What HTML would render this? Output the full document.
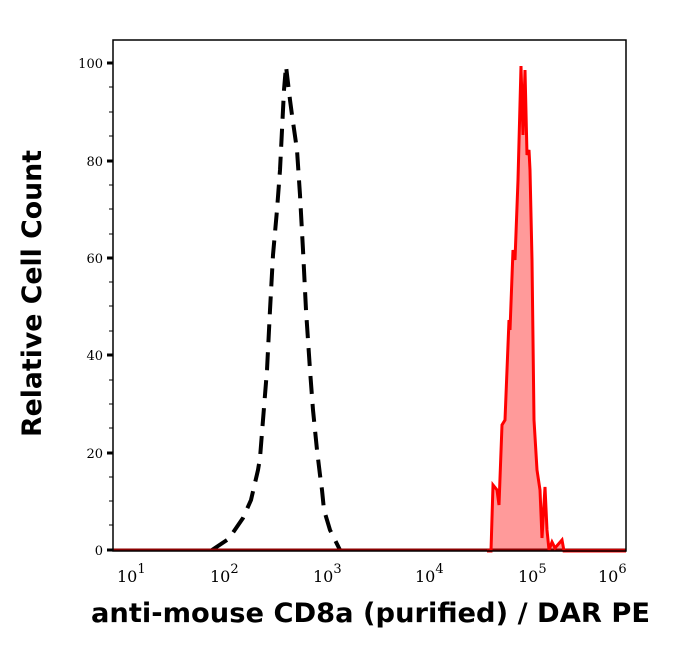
<!DOCTYPE html>
<html><head><style>body{margin:0;background:#fff}</style></head><body>
<svg width="676" height="641" xmlns="http://www.w3.org/2000/svg" font-family="DejaVu Serif, serif">
<rect width="676" height="641" fill="#fff"/>
<polygon fill="#ff9a9a" points="487,551 491,551 493,485 497,490 499,505 502,425 505,420 507,370 509,320 510,330 513,250 515,260 518,180 521,66 523,135 525,70 527,155 529,150 530,170 532,260 534,420 537,470 540,490 542,538 545,487 547,530 549,550 552,542 555,548 562,540 564,551"/>
<polyline fill="none" stroke="#000" stroke-width="4" stroke-dasharray="18,10" points="212,550 227,540 230,537 243,518 251,500 258,470 260,458 263,420 267,370 270,310 273,255 277,210 280,170 282,130 284,90 286,66 290,100 292,115 297,150 300,195 303,250 306,310 310,370 313,410 317,450 320,475 322,490 324,510 330,530 340,550"/>
<line x1="113" y1="550" x2="626" y2="550" stroke="#8b0000" stroke-width="3"/>
<polyline fill="none" stroke="#ff0000" stroke-width="3" points="487,551 491,551 493,485 497,490 499,505 502,425 505,420 507,370 509,320 510,330 513,250 515,260 518,180 521,66 523,135 525,70 527,155 529,150 530,170 532,260 534,420 537,470 540,490 542,538 545,487 547,530 549,550 552,542 555,548 562,540 564,551 626,551"/>
<rect x="113" y="40" width="513" height="511" fill="none" stroke="#000" stroke-width="1.5"/>
<g stroke="#000" stroke-width="3">
<line x1="107" y1="550" x2="113" y2="550"/><line x1="107" y1="453" x2="113" y2="453"/><line x1="107" y1="355" x2="113" y2="355"/><line x1="107" y1="258" x2="113" y2="258"/><line x1="107" y1="161" x2="113" y2="161"/><line x1="107" y1="63" x2="113" y2="63"/>
</g>
<g stroke="#000" stroke-width="1">
<line x1="109" y1="501" x2="113" y2="501"/><line x1="109" y1="404" x2="113" y2="404"/><line x1="109" y1="306" x2="113" y2="306"/><line x1="109" y1="209" x2="113" y2="209"/><line x1="109" y1="112" x2="113" y2="112"/>
<line x1="109" y1="525" x2="113" y2="525"/><line x1="109" y1="477" x2="113" y2="477"/><line x1="109" y1="428" x2="113" y2="428"/><line x1="109" y1="380" x2="113" y2="380"/><line x1="109" y1="331" x2="113" y2="331"/><line x1="109" y1="282" x2="113" y2="282"/><line x1="109" y1="234" x2="113" y2="234"/><line x1="109" y1="185" x2="113" y2="185"/><line x1="109" y1="136" x2="113" y2="136"/><line x1="109" y1="87" x2="113" y2="87"/>
</g>
<g id="xt" stroke="#000"></g>
<g font-size="13" text-anchor="end">
<text x="103" y="555">0</text><text x="103" y="458">20</text><text x="103" y="360">40</text><text x="103" y="263">60</text><text x="103" y="166">80</text><text x="103" y="68">100</text>
</g>
<g font-size="16">
<text x="117" y="582">10<tspan font-size="13" dy="-9">1</tspan></text>
<text x="210" y="582">10<tspan font-size="13" dy="-9">2</tspan></text>
<text x="313" y="582">10<tspan font-size="13" dy="-9">3</tspan></text>
<text x="415" y="582">10<tspan font-size="13" dy="-9">4</tspan></text>
<text x="518" y="582">10<tspan font-size="13" dy="-9">5</tspan></text>
<text x="598" y="582">10<tspan font-size="13" dy="-9">6</tspan></text>
</g>
<text x="91" y="622" font-family="DejaVu Sans, sans-serif" font-weight="bold" font-size="27" textLength="559" lengthAdjust="spacingAndGlyphs">anti-mouse CD8a (purified) / DAR PE</text>
<text transform="translate(41,437) rotate(-90)" font-family="DejaVu Sans, sans-serif" font-weight="bold" font-size="27" textLength="287" lengthAdjust="spacingAndGlyphs">Relative Cell Count</text>
<script>
var g=document.getElementById('xt'),s='';
for(var d=1;d<=6;d++){var b=113+(d-1.03)*103.5;
 if(b>=112&&b<=627)s+='<line x1="'+b+'" y1="551" x2="'+b+'" y2="558" stroke-width="3"/>';
 if(d<6)for(var k=2;k<10;k++){var x=b+Math.log10(k)*103.5;if(x>113&&x<626)s+='<line x1="'+x+'" y1="551" x2="'+x+'" y2="555" stroke-width="1"/>';}}
g.innerHTML=s;
</script>
</svg>
</body></html>
